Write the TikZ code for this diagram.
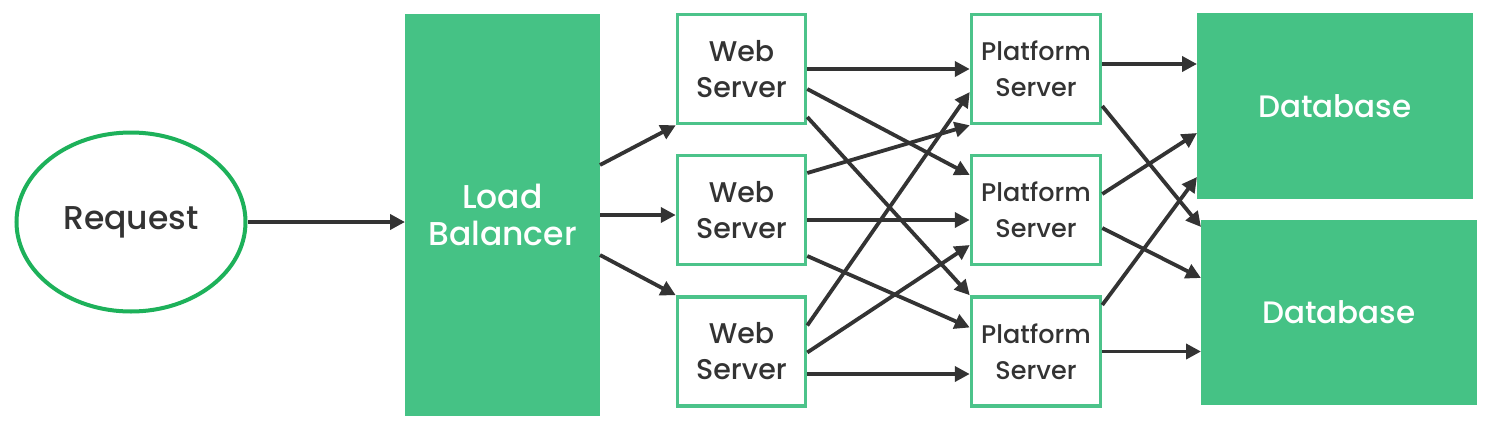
\documentclass[tikz,border=0pt]{standalone}
\usepackage{fontspec}
\setmainfont{Poppins}[UprightFont=* Medium]
\usetikzlibrary{arrows.meta,shapes.geometric,calc}
\definecolor{gfill}{HTML}{45C285}
\definecolor{gline}{HTML}{4CC38A}
\definecolor{eline}{HTML}{1DB15A}
\definecolor{ink}{HTML}{333333}
\tikzset{
  greenbox/.style={draw=gfill,fill=gfill,line width=1pt,text=white,align=center,inner sep=0pt},
  srvbox/.style={draw=gline,line width=3.5pt,fill=white,text=ink,align=center,inner sep=0pt},
  conn/.style={draw=ink,line width=3.8pt,-{Triangle[length=15pt,width=15pt]}},
}
\begin{document}
\begin{tikzpicture}[x=1pt,y=-1pt]
\useasboundingbox[fill=white] (0,0) rectangle (1512,442);
% nodes
\node[ellipse,draw=eline,line width=4pt,minimum width=229pt,minimum height=179pt,text=ink,inner sep=0pt,
      font=\fontsize{33}{36}\selectfont] (req) at (131,222) {Request};
\node[greenbox,minimum width=194pt,minimum height=401pt,font=\fontsize{33}{37}\selectfont] (lb) at (502.5,215) {Load\\Balancer};
\foreach \n/\y in {1/69,2/210,3/351.5}{
  \node[srvbox,minimum width=128pt,minimum height=109pt,font=\fontsize{28.5}{36}\selectfont] (w\n) at (741.5,\y) {Web\\Server};
  \node[srvbox,minimum width=129pt,minimum height=109pt,font=\fontsize{25.5}{36}\selectfont] (p\n) at (1036,\y) {Platform\\Server};
}
\node[greenbox,minimum width=275pt,minimum height=185pt,font=\fontsize{31}{36}\selectfont] (db1) at (1335,106) {Database};
\node[greenbox,minimum width=275pt,minimum height=184pt,font=\fontsize{31}{36}\selectfont] (db2) at (1339,312.5) {Database};
% connectors
\draw[conn] (req.east) -- (req.east -| lb.west);
\draw[conn] ([yshift=50pt]lb.east) -- (w1.south west);
\draw[conn] (lb.east) -- (lb.east -| w2.west);
\draw[conn] ([yshift=-40pt]lb.east) -- (w3.north west);
% web 1
\draw[conn] (w1.east) -- (p1.west);
\draw[conn] ([yshift=-20pt]w1.east) -- ([yshift=35pt]p2.west);
\draw[conn] ([yshift=-48pt]w1.east) -- (p3.north west);
% web 2
\draw[conn] ([yshift=37pt]w2.east) -- (p1.south west);
\draw[conn] ([yshift=-10pt]w2.east) -- ([yshift=-10pt]p2.west);
\draw[conn] ([yshift=-46pt]w2.east) -- ([yshift=24pt]p3.west);
% web 3
\draw[conn] ([yshift=26pt]w3.east) -- ([yshift=-23pt]p1.west);
\draw[conn] ([yshift=-1pt]w3.east) -- ([yshift=-35pt]p2.west);
\draw[conn] ([yshift=-22.5pt]w3.east) -- ([yshift=-22.5pt]p3.west);
% platform to db
\draw[conn] ([yshift=5pt]p1.east) -- ([yshift=5pt]p1.east -| db1.west);
\draw[conn] ([yshift=-37pt]p1.east) -- ([yshift=85.5pt]db2.west);
\draw[conn] ([yshift=16pt]p2.east) -- ([yshift=-27pt]db1.west);
\draw[conn] ([yshift=-18pt]p2.east) -- ([yshift=34.5pt]db2.west);
\draw[conn] ([yshift=46.5pt]p3.east) -- ([yshift=-71pt]db1.west);
\draw[conn] (p3.east) -- (p3.east -| db2.west);
\end{tikzpicture}
\end{document}
